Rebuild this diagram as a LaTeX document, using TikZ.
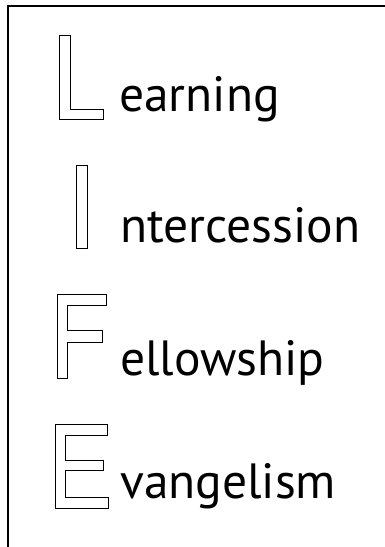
\documentclass[tikz,border=0pt]{standalone}
\usepackage{fontspec}
\setmainfont{PT Sans}
\begin{document}
\begin{tikzpicture}[x=1pt,y=-1pt,
  outline/.style={draw=black,line width=1pt,line join=miter},
  word/.style={anchor=base west,inner sep=0pt,font=\fontsize{49.5}{58}\selectfont}]
  \useasboundingbox (0,0) rectangle (385,547);
  % frame, cut off at right and bottom
  \draw[line width=2pt] (8,547) -- (8,6) -- (385,6);
  % hollow capitals
  \draw[outline] (59,35) -- (70,35) -- (70,109) -- (103,109) -- (103,119) -- (59,119) -- cycle;
  \draw[outline] (76,165) rectangle (87,248);
  \draw[outline] (57,294) -- (106,294) -- (106,305) -- (67,305) -- (67,330) -- (102,330)
    -- (102,342) -- (67,342) -- (67,378) -- (57,378) -- cycle;
  \draw[outline] (55,424) -- (107,424) -- (107,435) -- (65,435) -- (65,460) -- (103,460)
    -- (103,470) -- (65,470) -- (65,497) -- (108,497) -- (108,508) -- (55,508) -- cycle;
  % rest of each word
  \node[word] (learning) at (119,111) {earning};
  \node[word] (intercession) at (120,242) {ntercession};
  \node[word] (fellowship) at (120,375) {ellowship};
  \node[word] (evangelism) at (120,498) {vangelism};
\end{tikzpicture}
\end{document}
